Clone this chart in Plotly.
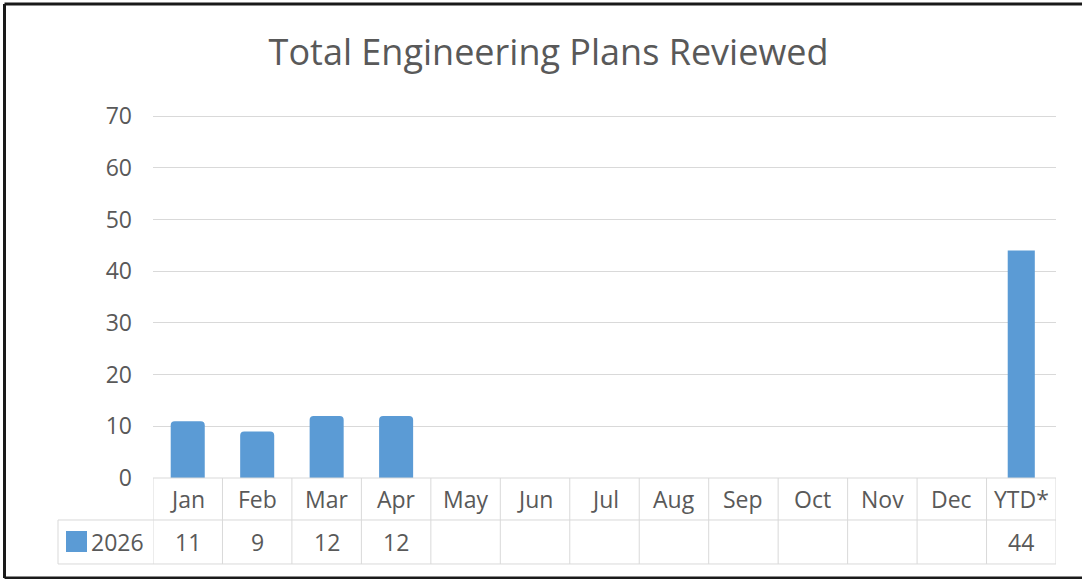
import plotly.graph_objects as go

# ---- data ----
categories = ["Jan", "Feb", "Mar", "Apr", "May", "Jun", "Jul", "Aug", "Sep", "Oct", "Nov", "Dec", "YTD*"]
values_2026 = [11, 9, 12, 12, None, None, None, None, None, None, None, None, 44]
series_name = "2026"
y_ticks = [0, 10, 20, 30, 40, 50, 60, 70]
title_text = "Total Engineering Plans Reviewed"

# ---- style ----
W, H = 1082, 579
Y_MAX = 70.4
PL, PR, PB = 153, 1056, 478            # plot area in pixels
PT = PB - (PB - 116) * Y_MAX / 70      # keep the 70 line at pixel 116
BAR = "#5B9BD5"
GRID = "#D9D9D9"
TXT = "#595959"
FONT = "Open Sans"
FS = 23

def py(y):  # pixel y -> paper y
    return (PB - y) / (PB - PT)

def px(x):  # pixel x -> paper x
    return (x - PL) / (PR - PL)

n = len(categories)
fig = go.Figure()
fig.add_trace(go.Bar(
    x=categories[:-1], y=values_2026[:-1], name=series_name,
    marker=dict(color=BAR, cornerradius=4, line=dict(width=0)),
    width=0.49, showlegend=False, hoverinfo="x+y"))
fig.add_trace(go.Bar(
    x=categories[-1:], y=values_2026[-1:], name=series_name,
    marker=dict(color=BAR, line=dict(width=0)),
    width=0.39, showlegend=False, hoverinfo="x+y"))

shapes = []
line = dict(color=GRID, width=1)
# table horizontal lines
shapes.append(dict(type="line", xref="x", yref="paper", x0=-0.5, x1=n - 0.5, y0=0, y1=0, line=line))
for yy in (520, 564):
    shapes.append(dict(type="line", xref="paper", yref="paper", x0=px(58), x1=1, y0=py(yy), y1=py(yy), line=line))
# table vertical lines
for k in range(n + 1):
    shapes.append(dict(type="line", xref="x", yref="paper", x0=k - 0.5, x1=k - 0.5, y0=0, y1=py(564), line=line))
shapes.append(dict(type="line", xref="paper", yref="paper", x0=px(58), x1=px(58), y0=py(520), y1=py(564), line=line))
# legend key
shapes.append(dict(type="rect", xref="paper", yref="paper", x0=px(66), x1=px(87), y0=py(531), y1=py(552),
                   fillcolor=BAR, line=dict(width=0)))
# outer frame
frame = dict(color="#1a1a1a", width=3)
shapes.append(dict(type="line", xref="paper", yref="paper", x0=px(4.5), x1=px(4.5), y0=py(4), y1=py(578), line=frame))
shapes.append(dict(type="line", xref="paper", yref="paper", x0=px(4.5), x1=px(1082), y0=py(4), y1=py(4), line=frame))
shapes.append(dict(type="line", xref="paper", yref="paper", x0=px(4.5), x1=px(1082), y0=py(578), y1=py(578), line=frame))

annotations = []
for c, v in zip(categories, values_2026):
    annotations.append(dict(x=c, xref="x", y=py(499), yref="paper", text=c, showarrow=False,
                            font=dict(family=FONT, size=FS, color=TXT), xanchor="center", yanchor="middle"))
    if v is not None:
        annotations.append(dict(x=c, xref="x", y=py(542), yref="paper", text=str(v), showarrow=False,
                                font=dict(family=FONT, size=FS, color=TXT), xanchor="center", yanchor="middle"))
annotations.append(dict(x=px(89), xref="paper", y=py(542), yref="paper", text=series_name, showarrow=False,
                        font=dict(family=FONT, size=FS, color=TXT), xanchor="left", yanchor="middle"))

fig.update_layout(
    width=W, height=H,
    margin=dict(l=PL, r=W - PR, t=PT, b=H - PB),
    paper_bgcolor="white", plot_bgcolor="white",
    barmode="overlay",
    title=dict(text=title_text, x=0.507, xanchor="center", y=1 - 52 / H, yanchor="middle", yref="container",
               font=dict(family=FONT, size=36, color=TXT)),
    xaxis=dict(type="category", categoryorder="array", categoryarray=categories, range=[-0.5, n - 0.5],
               showticklabels=False, showgrid=False, zeroline=False, showline=False, fixedrange=True),
    yaxis=dict(range=[0, Y_MAX], tickvals=y_ticks, showgrid=True, gridcolor=GRID, gridwidth=1, zeroline=False,
               showline=False, ticks="", ticklabelstandoff=20,
               tickfont=dict(family=FONT, size=FS, color=TXT), fixedrange=True),
    shapes=shapes, annotations=annotations,
    showlegend=False,
)

fig.write_html("out.html", config={"displayModeBar": False},
               post_script="document.body.style.margin='0';document.body.style.overflow='hidden';")
